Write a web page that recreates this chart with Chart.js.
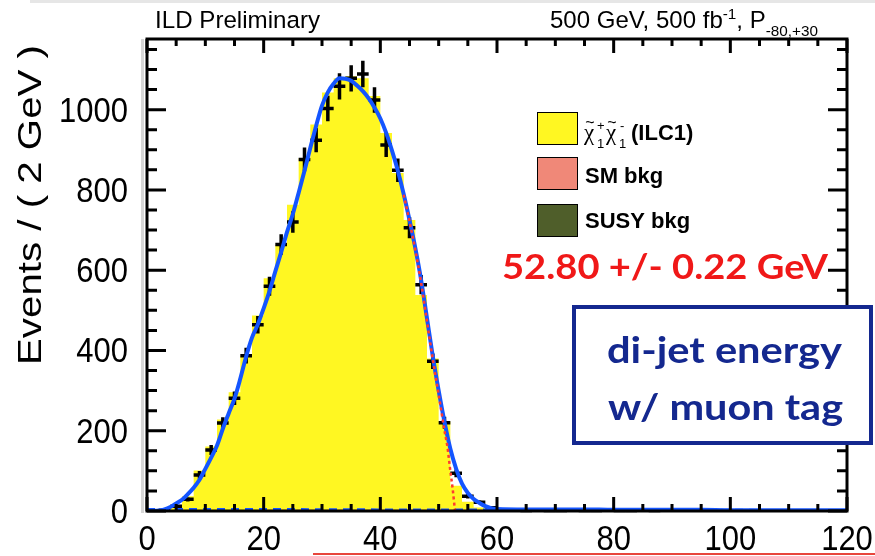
<!DOCTYPE html>
<html lang="en">
<head>
<meta charset="UTF-8">
<title>di-jet energy w/ muon tag</title>
<script src="https://cdn.jsdelivr.net/npm/chart.js@4.4.1/dist/chart.umd.min.js"></script>
<style>
  body { margin: 0; background: #fff; }
  #wrap { position: relative; width: 875px; height: 556px; }
</style>
</head>
<body>
<div id="wrap"><canvas id="myChart"></canvas></div>
<script>
// 2 GeV bins from 0 to 120 GeV
const binWidth = 2;
const signalHist = [0, 1, 10, 36, 100, 160, 227, 294, 385, 485, 577, 660, 760, 876, 960,
  1040, 1075, 1080, 1075, 1031, 939, 839, 722, 535, 377, 220, 60, 20, 6, 2,
  0, 0, 0, 0, 0, 0, 0, 0, 0, 0, 0, 0, 0, 0, 0, 0, 0, 0, 0, 0, 0, 0, 0, 0, 0, 0, 0, 0, 0, 0];
const smBkg = [0, 0, 1, 1, 1, 1, 1, 2, 2, 2, 2, 2, 2, 2, 2, 2, 2, 2, 2, 2, 2, 2, 2, 2, 2,
  2, 2, 2, 2, 2, 1, 1, 1, 1, 1, 1, 1, 1, 1, 1, 1, 1, 1, 1, 1, 0, 0, 0, 0, 0, 0, 0, 0, 0, 0, 0, 0, 0, 0, 0];
const susyBkg = [0, 0, 0, 0, 0, 0, 0, 0, 0, 0, 1, 1, 1, 1, 1, 1, 1, 1, 1, 1, 1, 1, 1, 1, 1,
  1, 1, 1, 1, 1, 0, 0, 0, 0, 0, 0, 0, 0, 0, 0, 0, 0, 0, 0, 0, 0, 0, 0, 0, 0, 0, 0, 0, 0, 0, 0, 0, 0, 0, 0];
// pseudo data, events per bin (null = empty bin)
const dataCounts = [null, 2, 12, 29, 90, 152, 219, 281, 387, 464, 560, 664, 720, 876, 924,
  1003, 1058, 1078, 1089, 1024, 912, 849, 706, 564, 373, 220, 94, 37, 22, 8,
  3, 2, 1, 2, 1, 1, 2, 1, 1, null, 1, 1, null, 1, null,
  null, null, null, null, null, null, null, null, null, null, null, null, null, null, null];

// fit (blue), signal component (red dotted), background component (blue dashed)
const fitX = [0, 1, 2, 3, 4, 5, 6, 7, 8, 9, 10, 11, 12, 13, 14, 15, 16, 17, 18, 19, 20,
  21, 22, 23, 24, 25, 26, 27, 28, 29, 30, 31, 32, 33, 34, 35, 36, 37, 38, 39, 40,
  41, 42, 43, 44, 45, 46, 47, 48, 49, 50, 51, 52, 53, 54, 55, 56, 57, 58, 59, 60,
  65, 70, 75, 80, 85, 90, 95, 100, 105, 110, 115, 120];
const fitY = [0, 0.3, 1, 4, 10, 19, 28, 42, 58, 78, 105, 133, 163, 205, 243, 280, 330, 385, 432, 465, 505,
  548, 597, 645, 695, 740, 793, 848, 905, 960, 1010, 1043, 1065, 1078, 1077, 1072, 1060, 1046, 1028, 1005, 978,
  942, 898, 848, 790, 725, 655, 575, 480, 385, 300, 222, 155, 105, 68, 45, 30, 20, 12, 7, 5,
  4, 4, 4, 3, 3, 3, 3, 2, 2, 2, 2, 2];
const sigX = [44, 45, 46, 47, 48, 49, 50, 51, 51.5, 52, 52.4, 52.8];
const sigY = [788, 722, 650, 568, 472, 377, 290, 200, 160, 100, 55, 0];
const bkgX = [0, 20, 40, 60, 80, 100, 120];
const bkgY = [5, 5, 4, 4, 3, 3, 2];

const xMajor = [0, 20, 40, 60, 80, 100, 120];
const yMajor = [0, 200, 400, 600, 800, 1000];

const yellow = '#fff722', salmon = '#f08878', olive = '#4f5e2a';
const navy = '#14288f';

function stepData(values) {
  const pts = values.map((v, i) => ({ x: i * binWidth, y: v }));
  pts.push({ x: values.length * binWidth, y: values[values.length - 1] });
  return pts;
}
const susyStack = susyBkg;
const smStack = smBkg.map((v, i) => v + susyBkg[i]);
const totalStack = signalHist.map((v, i) => v + smStack[i]);

function txt(ctx, s, x, y, font, color, align, sx, sy) {
  ctx.save();
  ctx.translate(x, y);
  ctx.scale(sx || 1, sy || 1);
  ctx.font = font;
  ctx.fillStyle = color;
  ctx.textAlign = align || 'left';
  ctx.textBaseline = 'alphabetic';
  ctx.fillText(s, 0, 0);
  ctx.restore();
}
function fitTxt(ctx, s, x, y, font, color, width, sy) {
  ctx.font = font;
  const w = ctx.measureText(s).width;
  txt(ctx, s, x, y, font, color, 'left', width / w, sy);
}

const rootPlot = {
  id: 'rootPlot',
  afterDatasetDraw(chart, args) {
    if (chart.data.datasets[args.index].label !== 'data') return;
    const ctx = chart.ctx, xs = chart.scales.x, ys = chart.scales.y;
    ctx.save();
    ctx.strokeStyle = '#000';
    ctx.lineWidth = 3.5;
    dataCounts.forEach((n, i) => {
      if (n === null) return;
      const c = i * binWidth + binWidth / 2;
      const px = xs.getPixelForValue(c), py = ys.getPixelForValue(n);
      const err = Math.sqrt(n);
      ctx.beginPath();
      ctx.moveTo(xs.getPixelForValue(c - binWidth / 2), py);
      ctx.lineTo(xs.getPixelForValue(c + binWidth / 2), py);
      ctx.moveTo(px, ys.getPixelForValue(n - err));
      ctx.lineTo(px, ys.getPixelForValue(n + err));
      ctx.stroke();
    });
    ctx.restore();
  },
  afterDatasetsDraw(chart) {
    const ctx = chart.ctx, a = chart.chartArea, xs = chart.scales.x, ys = chart.scales.y;
    ctx.save();
    // slide artefacts
    ctx.fillStyle = '#e6e6e6';
    ctx.fillRect(30, 0, 845, 3);
    ctx.fillStyle = '#d6d6d6';
    ctx.fillRect(141, a.top, 3, a.bottom - a.top + 2);
    ctx.fillStyle = '#e8453c';
    ctx.fillRect(313, 553, 562, 2);

    // frame
    ctx.strokeStyle = '#000';
    ctx.lineWidth = 3;
    ctx.strokeRect(a.left, a.top, a.right - a.left, a.bottom - a.top);
    // ticks
    ctx.beginPath();
    for (let v = 0; v <= 120; v += 5) {
      const px = xs.getPixelForValue(v);
      const len = v % 20 === 0 ? 14 : 7;
      ctx.moveTo(px, a.bottom); ctx.lineTo(px, a.bottom - len);
      ctx.moveTo(px, a.top); ctx.lineTo(px, a.top + len);
    }
    for (let v = 0; v <= 1150; v += 50) {
      const py = ys.getPixelForValue(v);
      const len = v % 200 === 0 ? 19 : 10;
      ctx.moveTo(a.left, py); ctx.lineTo(a.left + len, py);
      ctx.moveTo(a.right, py); ctx.lineTo(a.right - len, py);
    }
    ctx.stroke();

    // tick labels
    const tf = '31px "Liberation Sans"';
    xMajor.forEach(v => txt(ctx, String(v), xs.getPixelForValue(v), 550, tf, '#000', 'center', 1, 1.15));
    yMajor.forEach(v => txt(ctx, String(v), 128, ys.getPixelForValue(v) + 12, tf, '#000', 'right', 1, 1.15));

    // y title
    ctx.save();
    ctx.translate(41, 365);
    ctx.rotate(-Math.PI / 2);
    fitTxt(ctx, 'Events / ( 2 GeV )', 0, 0, '33px "Liberation Sans"', '#000', 320, 1);
    ctx.restore();

    // header
    fitTxt(ctx, 'ILD Preliminary', 155, 28, '22px "Liberation Sans"', '#000', 165, 1.08);
    const hf = '22px "Liberation Sans"', sf = '14px "Liberation Sans"';
    const parts = [['500 GeV, 500 fb', hf, 28], ['-1', sf, 19], [', P', hf, 28], ['-80,+30', sf, 36]];
    let tot = 0;
    parts.forEach(p => { ctx.font = p[1]; tot += ctx.measureText(p[0]).width; });
    ctx.save();
    ctx.translate(550, 0);
    ctx.scale(268 / tot, 1);
    let cx = 0;
    parts.forEach(p => {
      txt(ctx, p[0], cx, p[2], p[1], '#000', 'left', 1, p[1] === hf ? 1.08 : 1);
      ctx.font = p[1];
      cx += ctx.measureText(p[0]).width;
    });
    ctx.restore();

    // legend
    const boxes = [[112, yellow], [157, salmon], [204, olive]];
    ctx.lineWidth = 1;
    boxes.forEach(b => {
      ctx.fillStyle = b[1];
      ctx.fillRect(537, b[0], 40, 32);
      ctx.strokeStyle = '#000';
      ctx.strokeRect(537.5, b[0] + 0.5, 40, 32);
    });
    const chi = '23px "Liberation Serif"', small = '13px "Liberation Sans"';
    const tilde = '16px "Liberation Sans"';
    txt(ctx, 'χ', 584, 140, chi, '#000');
    txt(ctx, '~', 590, 128, tilde, '#000', 'center');
    txt(ctx, '1', 597, 148, small, '#000');
    txt(ctx, '+', 597, 130, small, '#000');
    txt(ctx, 'χ', 606, 140, chi, '#000');
    txt(ctx, '~', 612, 128, tilde, '#000', 'center');
    txt(ctx, '1', 619, 148, small, '#000');
    txt(ctx, '-', 620, 130, small, '#000');
    const lf = 'bold 22px "Liberation Sans"';
    txt(ctx, '(ILC1)', 631, 140, lf, '#000');
    txt(ctx, 'SM bkg', 585, 183, lf, '#000');
    txt(ctx, 'SUSY bkg', 585, 228, lf, '#000');

    // fit result
    fitTxt(ctx, '52.80 +/- 0.22 GeV', 502, 279, 'bold 34px Lato', '#f01818', 326, 1);

    // label box
    ctx.fillStyle = '#fff';
    ctx.fillRect(572, 305, 301, 140);
    ctx.strokeStyle = navy;
    ctx.lineWidth = 4;
    ctx.strokeRect(574, 307, 297, 136);
    fitTxt(ctx, 'di-jet energy', 607, 363, 'bold 36px Lato', navy, 235, 1);
    fitTxt(ctx, 'w/ muon tag', 608, 420, 'bold 36px Lato', navy, 235, 1);
    ctx.restore();
  }
};

new Chart('myChart', {
  type: 'line',
  data: {
    datasets: [
      { label: 'signal', data: stepData(totalStack), stepped: true, fill: 'origin',
        backgroundColor: yellow, borderColor: 'rgba(0,0,0,0)', borderWidth: 1, pointRadius: 0, order: 6 },
      { label: 'SM bkg', data: stepData(smStack), stepped: true, fill: 'origin',
        backgroundColor: salmon, borderColor: 'rgba(0,0,0,0)', borderWidth: 1, pointRadius: 0, order: 5 },
      { label: 'SUSY bkg', data: stepData(susyStack), stepped: true, fill: 'origin',
        backgroundColor: olive, borderColor: 'rgba(0,0,0,0)', borderWidth: 1, pointRadius: 0, order: 4 },
      { label: 'data', data: dataCounts.map((n, i) => ({ x: i * binWidth + binWidth / 2, y: n })),
        showLine: false, pointRadius: 0, order: 3 },
      { label: 'bkg', data: bkgX.map((x, i) => ({ x, y: bkgY[i] })), borderColor: '#1455ff',
        borderWidth: 2, borderDash: [8, 6], pointRadius: 0, fill: false, order: 2 },
      { label: 'fit', data: fitX.map((x, i) => ({ x, y: fitY[i] })), borderColor: '#1455ff',
        borderWidth: 4, cubicInterpolationMode: 'monotone', pointRadius: 0, fill: false, order: 1 },
      { label: 'sig', data: sigX.map((x, i) => ({ x, y: sigY[i] })), borderColor: '#ff3b30',
        borderWidth: 2.5, borderDash: [3, 3], cubicInterpolationMode: 'monotone', pointRadius: 0, fill: false, order: 0 }
    ]
  },
  options: {
    responsive: true,
    maintainAspectRatio: false,
    animation: false,
    layout: { padding: { left: 147, top: 39, right: 28, bottom: 45 } },
    plugins: { legend: { display: false }, tooltip: { enabled: false } },
    scales: {
      x: { type: 'linear', min: 0, max: 120, display: false },
      y: { min: 0, max: 1176, display: false }
    }
  },
  plugins: [rootPlot]
});
</script>
</body>
</html>
